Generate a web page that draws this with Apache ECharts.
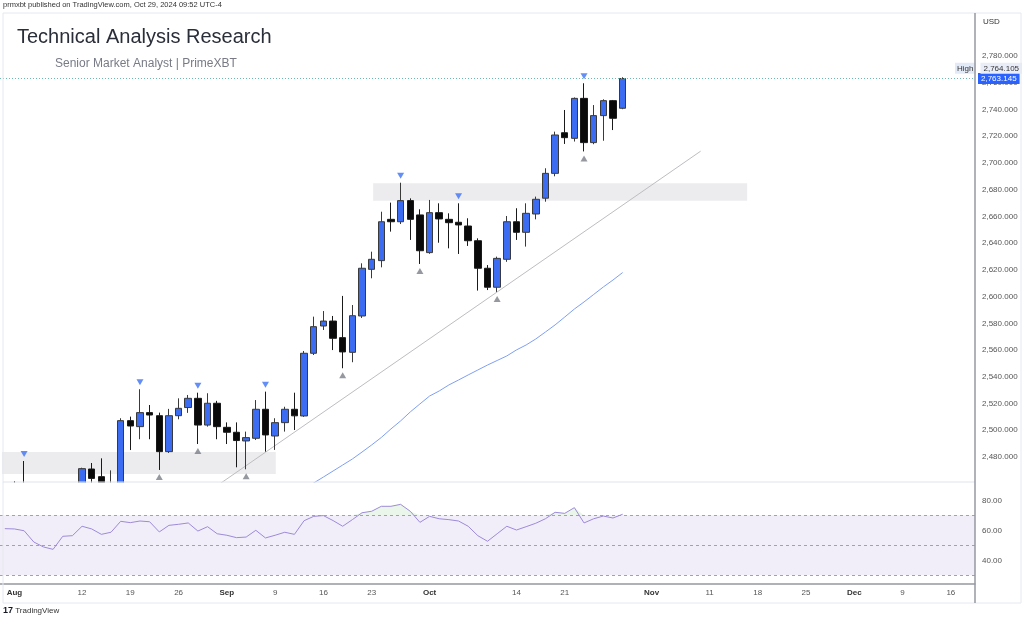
<!DOCTYPE html>
<html>
<head>
<meta charset="utf-8">
<title>Technical Analysis Research</title>
<script src="https://cdn.jsdelivr.net/npm/echarts@6/dist/echarts.min.js"></script>
<style>
  html, body { margin: 0; padding: 0; background: #fff; }
  #chart { width: 1024px; height: 620px; }
</style>
</head>
<body>
<div id="chart"></div>
<script>
// trading days shown on the time scale (2024)
const dates = [
  '07-31',
  '08-01','08-02','08-05','08-06','08-07','08-08','08-09','08-12','08-13','08-14','08-15','08-16',
  '08-19','08-20','08-21','08-22','08-23','08-26','08-27','08-28','08-29','08-30',
  '09-02','09-03','09-04','09-05','09-06','09-09','09-10','09-11','09-12','09-13',
  '09-16','09-17','09-18','09-19','09-20','09-23','09-24','09-25','09-26','09-27','09-30',
  '10-01','10-02','10-03','10-04','10-07','10-08','10-09','10-10','10-11','10-14','10-15',
  '10-16','10-17','10-18','10-21','10-22','10-23','10-24','10-25','10-28','10-29','10-30','10-31',
  '11-01','11-04','11-05','11-06','11-07','11-08','11-11','11-12','11-13','11-14','11-15',
  '11-18','11-19','11-20','11-21','11-22','11-25','11-26','11-27','11-28','11-29',
  '12-02','12-03','12-04','12-05','12-06','12-09','12-10','12-11','12-12','12-13','12-16','12-17','12-18'
];

const tickDates = ['08-01','08-12','08-19','08-26','09-02','09-09','09-16','09-23','10-01','10-14','10-21',
  '11-01','11-11','11-18','11-25','12-02','12-09','12-16'];
const tickTexts = ['Aug','12','19','26','Sep','9','16','23','Oct','14','21','Nov','11','18','25','Dec','9','16'];

// daily candles, Jul 31 .. Oct 29
const opens = [2411,2448,2446,2443,2410,2390,2382,2427,2431,2471,2465.3,2447,2456,2507.2,2502.7,2513.2,2510.9,2484,
  2510.9,2517,2523.9,2503.9,2520.2,2502.2,2498.5,2492,2494,2515.7,2495.7,2505.7,2515.7,2510.7,2557.6,2578,2581.7,
  2569.3,2558.3,2585.5,2620.4,2626.9,2657.8,2656,2671.8,2661.1,2632.9,2662.8,2657.8,2655.6,2652.8,2641.8,2621.2,
  2607,2627.9,2656,2648.1,2661.8,2673.6,2692.2,2722.6,2718.4,2748.3,2715.2,2735.4,2746.6,2740.9];
const highs = [2451,2462,2477,2460,2420,2408,2431,2438,2472,2475.5,2479,2470,2509,2510.2,2530.7,2518.9,2513.2,2516,
  2523.9,2526.4,2528.1,2527.7,2522,2505.9,2505.9,2499,2522.6,2528.9,2509,2517.6,2528.1,2559.3,2585,2589.2,2585.5,
  2600.5,2593.7,2624.9,2633.6,2663.5,2670.3,2685.2,2673.5,2665.3,2672.3,2669.8,2662.3,2669.8,2658.6,2643.6,2623.6,
  2629.9,2660.3,2666.1,2669.8,2674.8,2696,2723.4,2739.6,2749,2759.6,2743.3,2747.6,2747.1,2764.105];
const lows = [2400,2432,2410,2364,2381,2368,2379,2418,2424,2457,2441,2430,2454,2485.2,2493.3,2493.3,2470.3,2483,
  2508.2,2513,2489.7,2502.7,2493.3,2489.7,2472.3,2470.8,2492.7,2484,2485.3,2499,2500.2,2510,2556.3,2575,2560,
  2546.4,2550.9,2584,2613.7,2621.9,2648.6,2654.3,2642.4,2624.4,2632,2640.3,2636.1,2631.9,2637.9,2604.5,2604.9,
  2603.5,2626,2642.4,2637.4,2657.8,2671,2690,2714.2,2716,2708.6,2714,2716.6,2724.6,2740.2];
const closes = [2448,2446,2443,2410,2390,2382,2427,2431,2471.3,2464,2447,2456,2507.2,2503.2,2513.2,2511.4,2484,2510.9,
  2516.4,2523.9,2503.9,2520.2,2502.7,2498.5,2492.3,2494.5,2515.7,2496.5,2505.7,2515.7,2510.8,2557.6,2577.5,2581.7,
  2568.8,2558.6,2585.7,2621.2,2627.9,2656,2656,2671.8,2657.8,2634.3,2662.8,2658.1,2655.3,2653.6,2641.8,2621.2,2607,
  2628.6,2656,2648.1,2662.3,2672.8,2692.2,2720.9,2718.9,2748.3,2715.2,2735.4,2746.6,2733.4,2763.145];

// moving average (blue curve)
const maValues = [null,null,null,null,null,null,null,null,null,null,null,null,null,null,null,null,null,null,null,null,
  null,null,null,null,null,null,null,null,null,null,
  2451.6,2456.1,2460.6,2465.0,2469.5,2474.0,2478.5,2483.7,2489.0,2494.6,2501.0,2507.0,2513.7,2519.7,2525.6,2529.4,
  2533.9,2537.6,2541.4,2545.1,2548.8,2552.2,2555.6,2560.1,2563.8,2568.3,2573.5,2578.8,2584.7,2590.7,2596.0,2601.6,
  2607.2,2612.4,2618.0];

// RSI(14)
const rsiValues = [61.1,60.9,59.7,52.2,48.9,47.3,56.0,56.4,62.7,60.9,57.3,58.7,66.0,65.1,66.2,65.7,58.9,63.3,64.0,64.9,
  59.5,62.4,57.7,56.7,55.1,55.5,60.0,54.9,56.7,58.7,57.3,66.4,69.3,69.8,66.5,62.7,67.1,71.7,72.7,76.0,76.0,77.3,72.7,
  65.3,69.3,67.7,67.1,66.2,62.7,56.4,52.7,57.7,62.7,60.2,62.4,64.7,67.7,72.0,71.3,75.1,64.9,67.7,69.5,68.2,70.7];

// fractal markers (bar indexes)
const fractalHighIdx = [2, 14, 20, 27, 41, 47, 60];
const fractalLowIdx = [16, 20, 25, 35, 43, 51, 60];

// drawings: trend line [bar, price], zones [barFrom, barTo, priceLow, priceHigh]
const trendLine = [[20, 2448.6], [72.08, 2708.8]];
const zones = [[-0.3, 28.07, 2467.3, 2483.8], [38.16, 76.9, 2671.7, 2684.8]];

const fmt = (v, d) => v.toLocaleString('en-US', { minimumFractionDigits: d, maximumFractionDigits: d });
const FONT = '"Liberation Sans", Arial, sans-serif';

let chart = echarts.init(document.getElementById('chart'));

const candles = opens.map((o, i) => [o, closes[i], lows[i], highs[i]]);
const lastClose = closes[closes.length - 1];
const topHigh = Math.max.apply(null, highs);

chart.setOption({
  animation: false,
  textStyle: { fontFamily: FONT },
  grid: [
    { left: -2.5, right: 49, top: 2.53, height: 481.2 },
    { left: -2.5, right: 49, top: 482, height: 101.7 }
  ],
  xAxis: [
    { type: 'category', gridIndex: 0, data: dates, show: false },
    {
      type: 'category', gridIndex: 1, data: dates, z: 30,
      axisLine: { lineStyle: { color: '#9598a1', width: 1.5 } },
      axisTick: { show: false },
      axisLabel: {
        interval: (i, v) => tickDates.indexOf(v) >= 0,
        formatter: v => {
          const t = tickTexts[tickDates.indexOf(v)];
          return /^[A-Z]/.test(t) ? '{m|' + t + '}' : t;
        },
        fontSize: 8, color: '#555', margin: 5,
        rich: { m: { fontSize: 8, fontWeight: 'bold', color: '#333' } }
      }
    },
    { type: 'value', gridIndex: 0, min: -0.5, max: 100.5, show: false }
  ],
  yAxis: [
    {
      type: 'value', gridIndex: 0, position: 'right', min: 2460, max: 2820, interval: 20,
      splitLine: { show: false }, axisLine: { show: false }, axisTick: { show: false },
      axisLabel: { margin: 7, fontSize: 8, color: '#555', formatter: v => (v > 2780 || v < 2480) ? '' : fmt(v, 3) }
    },
    {
      type: 'value', gridIndex: 1, position: 'right', min: 24.4, max: 92.2, z: 30,
      splitLine: { show: false }, axisLine: { show: false }, axisTick: { show: false },
      axisLabel: { margin: 7, fontSize: 8, color: '#555', customValues: [40, 60, 80], formatter: v => fmt(v, 2) }
    }
  ],
  series: [
    {
      // zones
      type: 'line', xAxisIndex: 2, yAxisIndex: 0, data: [], z: 1, silent: true,
      markArea: {
        silent: true,
        itemStyle: { color: '#ececef' },
        data: zones.map(z => [{ xAxis: z[0], yAxis: z[2] }, { xAxis: z[1], yAxis: z[3] }])
      }
    },
    {
      type: 'line', xAxisIndex: 2, yAxisIndex: 0, data: trendLine, z: 2,
      symbol: 'none', lineStyle: { color: '#bdbdc2', width: 1 }
    },
    {
      type: 'line', xAxisIndex: 0, yAxisIndex: 0, data: maValues, z: 2,
      showSymbol: false, lineStyle: { color: '#7f9ff4', width: 1 }
    },
    {
      type: 'candlestick', xAxisIndex: 0, yAxisIndex: 0, data: candles, z: 3, barWidth: 7,
      itemStyle: { color: '#3b6cf2', color0: '#0a0a0a', borderColor: '#3a3a3a', borderColor0: '#1a1a1a', borderWidth: 1 },
      markLine: {
        symbol: 'none', silent: true,
        data: [
          {
            yAxis: lastClose,
            lineStyle: { type: [1, 2], color: '#6fb8b2', width: 1 },
            label: {
              position: 'end', distance: 3, formatter: () => fmt(lastClose, 3),
              color: '#fff', backgroundColor: '#2962ff', padding: [2, 3, 1, 3], fontSize: 8
            }
          },
          {
            yAxis: topHigh,
            lineStyle: { color: 'rgba(0,0,0,0)', width: 0 },
            label: {
              show: true, position: 'end', distance: 0, offset: [-20, -9],
              formatter: () => '{h|High}{s|}{v|' + fmt(topHigh, 3) + '}',
              rich: {
                h: { fontSize: 8, color: '#333', backgroundColor: '#e3eaf7', padding: [2, 2, 1, 2] },
                s: { width: 5 },
                v: { fontSize: 8, color: '#333', backgroundColor: '#e8edf7', padding: [2, 3, 1, 3] }
              }
            }
          }
        ]
      }
    },
    {
      type: 'scatter', xAxisIndex: 0, yAxisIndex: 0, z: 4,
      data: fractalHighIdx.map(i => [i, highs[i]]),
      symbol: 'triangle', symbolRotate: 180, symbolSize: [7, 6], symbolOffset: [0, -7],
      itemStyle: { color: '#3d72f5' }
    },
    {
      type: 'scatter', xAxisIndex: 0, yAxisIndex: 0, z: 4,
      data: fractalLowIdx.map(i => [i, lows[i]]),
      symbol: 'triangle', symbolSize: [7, 6], symbolOffset: [0, 7],
      itemStyle: { color: '#7b7e86' }
    },
    // RSI pane (drawn above the white cover that hides candles below the price pane)
    {
      type: 'line', xAxisIndex: 1, yAxisIndex: 1, data: rsiValues.map(() => 70), stack: 'ob', z: 22,
      symbol: 'none', lineStyle: { opacity: 0 }, silent: true
    },
    {
      type: 'line', xAxisIndex: 1, yAxisIndex: 1, data: rsiValues.map(v => Math.max(v - 70, 0)), stack: 'ob', z: 22,
      symbol: 'none', lineStyle: { opacity: 0 }, areaStyle: { color: 'rgba(76,175,80,0.16)' }, silent: true
    },
    {
      type: 'line', xAxisIndex: 1, yAxisIndex: 1, data: rsiValues, z: 24,
      showSymbol: false, lineStyle: { color: '#9d8ad9', width: 1 },
      markArea: {
        silent: true, z: 21,
        itemStyle: { color: 'rgba(126,87,194,0.1)' },
        data: [[{ yAxis: 30 }, { yAxis: 70 }]]
      },
      markLine: {
        symbol: 'none', silent: true, z: 23, label: { show: false },
        lineStyle: { type: [3, 3], color: '#a2a2aa', width: 1 },
        data: [{ yAxis: 70 }, { yAxis: 50 }, { yAxis: 30 }]
      }
    }
  ],
  graphic: [
    { type: 'rect', z: 20, shape: { x: 0, y: 482.5, width: 975, height: 137.5 }, style: { fill: '#fff' }, silent: true },
    { type: 'rect', z: 40, shape: { x: 3, y: 13, width: 1018, height: 590 }, style: { fill: 'none', stroke: '#e6e8ee', lineWidth: 1 }, silent: true },
    { type: 'line', z: 40, shape: { x1: 3, y1: 482, x2: 975, y2: 482 }, style: { stroke: '#e0e3eb', lineWidth: 1 }, silent: true },
    { type: 'line', z: 40, shape: { x1: 975, y1: 13, x2: 975, y2: 603 }, style: { stroke: '#9598a1', lineWidth: 1.5 }, silent: true },
    { type: 'text', z: 40, left: 3, top: 1, style: { text: 'prmxbt published on TradingView.com, Oct 29, 2024 09:52 UTC-4', fontSize: 7.5, fill: '#333', fontFamily: FONT } },
    { type: 'text', z: 40, left: 17, top: 27, style: { text: 'Technical Analysis Research', fontSize: 20, fill: '#2a2e39', fontFamily: FONT } },
    { type: 'text', z: 40, left: 55, top: 58, style: { text: 'Senior Market Analyst | PrimeXBT', fontSize: 12, fill: '#787b86', fontFamily: FONT } },
    { type: 'text', z: 40, left: 983, top: 18, style: { text: 'USD', fontSize: 8, fill: '#333', fontFamily: FONT } },
    { type: 'text', z: 40, left: 3, top: 606, style: { text: '{l|17} TradingView', fontSize: 8, fill: '#333', fontFamily: FONT, rich: { l: { fontSize: 9, fontWeight: 'bold', fill: '#131722' } } } }
  ]
});

window.addEventListener('resize', function () {
  if (chart) {
    chart.resize();
  }
});
</script>
</body>
</html>
